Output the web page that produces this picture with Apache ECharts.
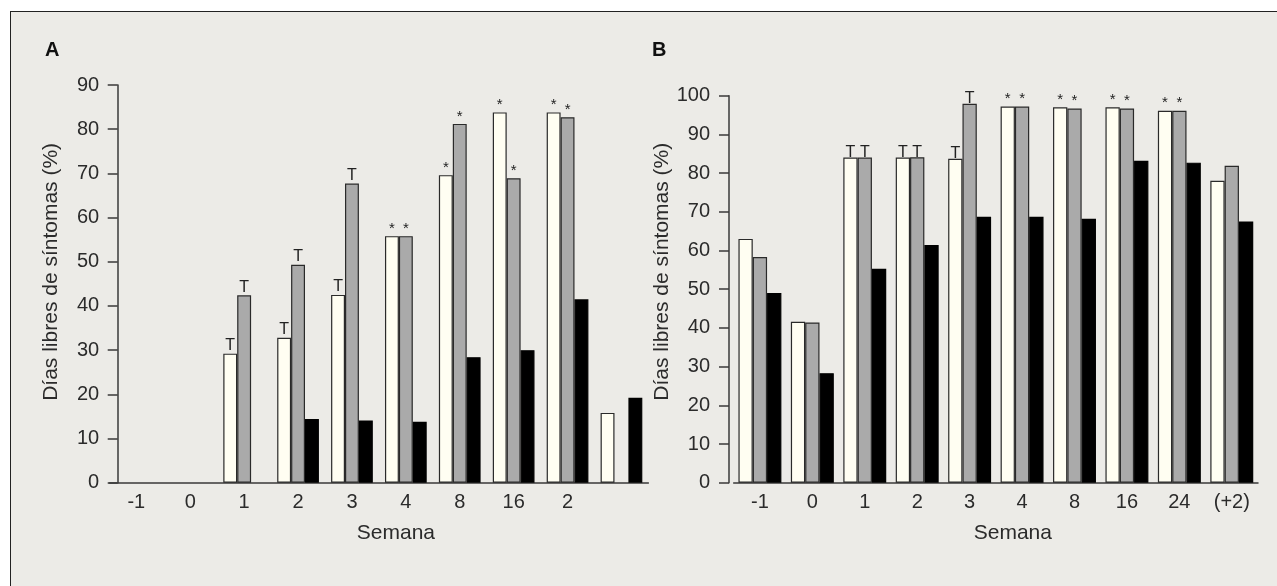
<!DOCTYPE html>
<html>
<head>
<meta charset="utf-8">
<script src="https://cdn.jsdelivr.net/npm/echarts@6/dist/echarts.min.js"></script>
<style>
  html, body { margin: 0; padding: 0; background: #ffffff; }
  #wrap { position: relative; width: 1277px; height: 586px; overflow: hidden; background: #ffffff; }
  #bg { position: absolute; left: 10px; top: 11px; right: 0; bottom: 0; background: #ecebe7;
        border-top: 1.5px solid #222; border-left: 1.5px solid #222; }
  #chart { position: absolute; left: 0; top: 0; width: 1277px; height: 586px; }
</style>
</head>
<body>
<div id="wrap"><div id="bg"></div><div id="chart"></div></div>
<script>
// ---- Data: panel A ----
const categoriesA = ['-1', '0', '1', '2', '3', '4', '8', '16', '2', ''];
const whiteA = [null, null, 29.2, 32.8, 42.5, 55.8, 69.6, 83.8, 83.8, 15.8];
const greyA  = [null, null, 42.4, 49.3, 67.7, 55.8, 81.2, 68.9, 82.7, null];
const blackA = [null, null, null, 14.4, 14.1, 13.8, 28.4, 30.0, 41.5, 19.2];
const whiteMarksA = ['', '', 'T', 'T', 'T', '*', '*', '*', '*', ''];
const greyMarksA  = ['', '', 'T', 'T', 'T', '*', '*', '*', '*', ''];

// ---- Data: panel B ----
const categoriesB = ['-1', '0', '1', '2', '3', '4', '8', '16', '24', '(+2)'];
const whiteB = [63.0, 41.6, 84.0, 84.0, 83.7, 97.2, 97.0, 97.0, 96.1, 78.0];
const greyB  = [58.3, 41.4, 84.0, 84.1, 97.9, 97.2, 96.7, 96.7, 96.1, 81.9];
const blackB = [49.0, 28.3, 55.3, 61.4, 68.7, 68.7, 68.2, 83.2, 82.7, 67.5];
const whiteMarksB = ['', '', 'T', 'T', 'T', '*', '*', '*', '*', ''];
const greyMarksB  = ['', '', 'T', 'T', 'T', '*', '*', '*', '*', ''];

const yTitle = 'Días libres de síntomas (%)';
const xTitle = 'Semana';

const FONT = 'Liberation Sans, Arial, sans-serif';
const TXT = '#2b2b2b';
const AX = '#3a3a3a';

function withMarks(values, marks, tDist) {
  return values.map((v, i) => {
    const m = marks ? marks[i] : '';
    if (v == null) return { value: null };
    if (!m) return { value: v };
    const isT = m === 'T';
    return {
      value: v,
      label: {
        show: true, position: 'top', formatter: m,
        distance: isT ? tDist : 0,
        fontSize: isT ? 16 : 15,
        color: '#222', fontFamily: FONT
      }
    };
  });
}

function barSeries(name, values, marks, idx, color, border, gapPct, tDist) {
  return {
    type: 'bar', name: name, xAxisIndex: idx, yAxisIndex: idx,
    data: withMarks(values, marks, tDist),
    barGap: '0%', barCategoryGap: gapPct,
    itemStyle: { color: color, borderColor: border, borderWidth: 1.2 },
    emphasis: { disabled: true },
    animation: false
  };
}

function yAxis(idx, max, offset, nameGap, namePadLeft, labelMargin) {
  return {
    type: 'value', gridIndex: idx, min: 0, max: max, interval: 10,
    offset: offset,
    name: yTitle, nameLocation: 'middle', nameGap: nameGap,
    nameTextStyle: { fontSize: 21, color: TXT, fontFamily: FONT, padding: [0, 0, 0, namePadLeft] },
    axisLine: { show: true, lineStyle: { color: AX, width: 1.5 } },
    axisTick: { show: true, length: 10, lineStyle: { color: AX, width: 1.5 } },
    axisLabel: { fontSize: 20, color: TXT, fontFamily: FONT, margin: labelMargin },
    splitLine: { show: false }
  };
}

function xAxis(idx, cats, namePadLeft) {
  return {
    type: 'category', gridIndex: idx, data: cats,
    name: xTitle, nameLocation: 'middle', nameGap: 40,
    nameTextStyle: { fontSize: 21, color: TXT, fontFamily: FONT, padding: [0, 0, 0, namePadLeft] },
    axisLine: { show: true, lineStyle: { color: AX, width: 1.5 } },
    axisTick: { show: false },
    axisLabel: { interval: 0, fontSize: 20, color: TXT, fontFamily: FONT, margin: 10 },
    splitLine: { show: false }
  };
}

const chart = echarts.init(document.getElementById('chart'), null, { renderer: 'canvas' });
chart.setOption({
  backgroundColor: 'transparent',
  animation: false,
  graphic: [
    { type: 'text', left: 45, top: 40, style: { text: 'A', fontSize: 20, fontWeight: 'bold', fill: '#111', fontFamily: FONT } },
    { type: 'text', left: 652, top: 40, style: { text: 'B', fontSize: 20, fontWeight: 'bold', fill: '#111', fontFamily: FONT } }
  ],
  grid: [
    { left: 109.4, top: 85, width: 539, height: 397.7, containLabel: false },
    { left: 733.7, top: 95.7, width: 524.3, height: 387, containLabel: false }
  ],
  xAxis: [ xAxis(0, categoriesA, 34), xAxis(1, categoriesB, 34) ],
  yAxis: [ yAxis(0, 90, -8.3, 56, 24, 18.5), yAxis(1, 100, 4.7, 54.5, 35, 19) ],
  series: [
    barSeries('A1', whiteA, whiteMarksA, 0, '#fffef2', '#2a2a2a', '22.6%', 0),
    barSeries('A2', greyA, greyMarksA, 0, '#aaaaaa', '#2a2a2a', '22.6%', 0),
    barSeries('A3', blackA, null, 0, '#000000', '#000000', '22.6%', 0),
    barSeries('B1', whiteB, whiteMarksB, 1, '#fffef2', '#2a2a2a', '18.1%', -3),
    barSeries('B2', greyB, greyMarksB, 1, '#aaaaaa', '#2a2a2a', '18.1%', -3),
    barSeries('B3', blackB, null, 1, '#000000', '#000000', '18.1%', -3)
  ]
});
</script>
</body>
</html>
